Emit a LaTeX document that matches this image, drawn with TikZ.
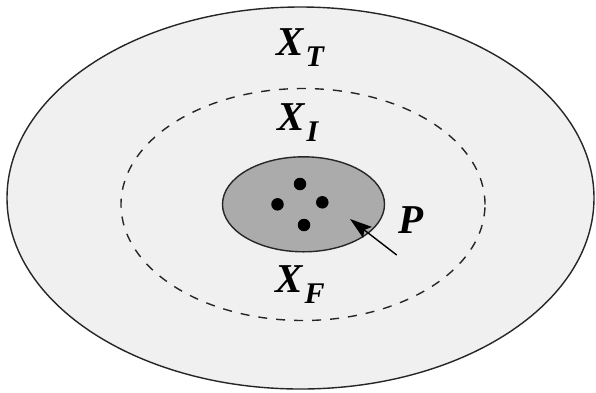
\documentclass[tikz,border=0pt]{standalone}
\usepackage{fontspec}
\setmainfont{Liberation Serif}
\usetikzlibrary{shapes.geometric,arrows.meta}
\newcommand{\lbl}[2]{{\fontsize{41}{48}\selectfont\bfseries\itshape #1\kern2pt\raisebox{-11pt}{\fontsize{30}{36}\selectfont #2}}}
\begin{document}
\begin{tikzpicture}[x=1pt,y=-1pt,
  region/.style={ellipse,inner sep=0pt,line width=1.4pt},
  dotmark/.style={circle,fill=black,inner sep=0pt,minimum size=12.5pt},
  lab/.style={anchor=base west,inner sep=0pt}]
\useasboundingbox (0,0) rectangle (596,392);
\fill[white] (0,0) rectangle (596,392);
\node[region,draw=black!85,fill=black!6,minimum width=587pt,minimum height=382pt] (outer) at (300.5,198) {};
\node[region,draw=black!85,dash pattern=on 9pt off 9pt,minimum width=364pt,minimum height=232pt] (mid) at (303,204.5) {};
\node[region,draw=black!85,fill=black!33,minimum width=162pt,minimum height=95pt] (P) at (303.5,204.3) {};
\node[dotmark] (d1) at (300,184) {};
\node[dotmark] (d2) at (277.5,204.3) {};
\node[dotmark] (d3) at (322.3,202.3) {};
\node[dotmark] (d4) at (304,225) {};
\node[lab] (XT) at (276,55) {\lbl{X}{T}};
\node[lab] (XI) at (277,130) {\lbl{X}{I}};
\node[lab] (XF) at (275,292) {\lbl{X}{F}};
\node[lab] (Pl) at (398,233) {\fontsize{41}{48}\selectfont\bfseries\itshape P};
\coordinate (tail) at (396.7,255);
\coordinate (tip) at (350,219);
\draw[line width=1.4pt,-{Stealth[length=22pt,width=14pt,inset=4pt]}] (tail) -- (tip);
\end{tikzpicture}
\end{document}
